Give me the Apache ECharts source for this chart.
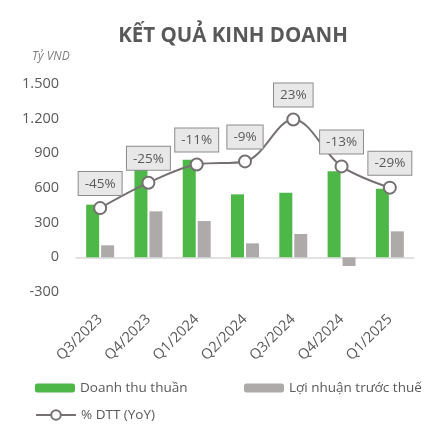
<!DOCTYPE html>
<html>
<head>
<meta charset="utf-8">
<script src="https://cdn.jsdelivr.net/npm/echarts@6/dist/echarts.min.js"></script>
<style>
html,body{margin:0;padding:0;background:#fff;}
#c{width:441px;height:428px;}
</style>
</head>
<body>
<div id="c"></div>
<script>
var categories = ['Q3/2023','Q4/2023','Q1/2024','Q2/2024','Q3/2024','Q4/2024','Q1/2025'];
var revenue = [456, 760, 845, 545, 559, 746, 594];
var profit = [104, 398, 314, 121, 202, -75, 225];
var yoyPct = [-45, -25, -11, -9, 23, -13, -29];
var yoyLineValues = [426, 646, 804, 830, 1193, 787, 603];
var yTicks = {min: -300, max: 1500, interval: 300};

var FONT = '"Open Sans", "Noto Sans", sans-serif';
var TXT = '#595959';
var chart = echarts.init(document.getElementById('c'));
chart.setOption({
  animation: false,
  textStyle: {fontFamily: FONT},
  title: {
    text: 'KẾT QUẢ KINH DOANH',
    left: 228, top: 21, textAlign: 'center',
    textStyle: {fontFamily: FONT, fontSize: 20.5, fontWeight: 'bold', color: TXT}
  },
  graphic: [{
    type: 'text', left: 32, top: 51,
    style: {text: 'Tỷ VND', font: 'italic 12px "Open Sans", sans-serif', fill: '#7f7f7f'}
  }],
  legend: [
    {left: 30, top: 376, itemWidth: 40, itemHeight: 9, itemGap: 10, data: ['Doanh thu thuần'],
     textStyle: {fontFamily: FONT, fontSize: 13.5, color: TXT}},
    {left: 239, top: 376, itemWidth: 40, itemHeight: 9, data: ['Lợi nhuận trước thuế'],
     textStyle: {fontFamily: FONT, fontSize: 13.5, color: TXT}},
    {left: 30, top: 403, itemWidth: 40, itemHeight: 12, data: ['% DTT (YoY)'],
     textStyle: {fontFamily: FONT, fontSize: 13.5, color: TXT}}
  ],
  grid: {left: 76, right: 27, top: 84, bottom: 136, containLabel: false},
  xAxis: [
    {type: 'category', data: categories, axisLine: {onZero: true, lineStyle: {color: '#d9d9d9', width: 1.5}},
     axisTick: {show: false}, axisLabel: {show: false}},
    {type: 'category', data: categories, position: 'bottom', axisLine: {show: false, onZero: false},
     axisTick: {show: false},
     axisLabel: {rotate: 45, margin: 25, fontSize: 14.5, color: TXT, fontFamily: FONT}}
  ],
  yAxis: [
    {type: 'value', min: yTicks.min, max: yTicks.max, interval: yTicks.interval,
     splitLine: {show: false}, axisLine: {show: false}, axisTick: {show: false},
     axisLabel: {fontSize: 14.5, color: TXT, fontFamily: FONT, margin: 17,
       formatter: function (v) { return String(v).replace(/\B(?=(\d{3})+(?!\d))/g, '.'); }}},
    {type: 'value', min: yTicks.min, max: yTicks.max, interval: yTicks.interval, show: false,
     splitLine: {show: false}}
  ],
  series: [
    {name: 'Doanh thu thuần', type: 'bar', data: revenue, barWidth: 13, barGap: '15%',
     itemStyle: {color: '#4db848'}, z: 2},
    {name: 'Lợi nhuận trước thuế', type: 'bar', data: profit, barWidth: 13,
     itemStyle: {color: '#aeaaaa'}, z: 2},
    {name: '% DTT (YoY)', type: 'line', yAxisIndex: 1, data: yoyLineValues, smooth: 0.35,
     symbol: 'circle', symbolSize: 12,
     lineStyle: {color: '#767171', width: 2},
     itemStyle: {color: '#ffffff', borderColor: '#767171', borderWidth: 2},
     z: 5,
     label: {show: true, position: 'top', distance: 6,
       formatter: function (p) { return yoyPct[p.dataIndex] + '%'; },
       backgroundColor: '#e8e8e8', borderColor: '#8c8c8c', borderWidth: 1,
       padding: [5, 6, 4, 6], fontSize: 13.5, color: TXT, fontFamily: FONT}}
  ]
});
</script>
</body>
</html>
